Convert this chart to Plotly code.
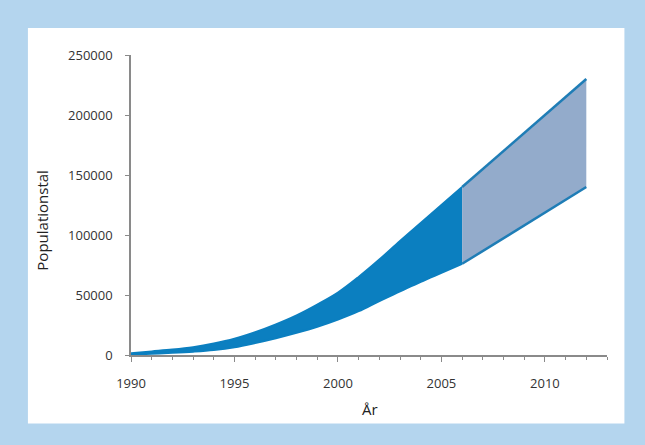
import plotly.graph_objects as go

years_hist = [1990, 1991, 1992, 1993, 1994, 1995, 1996, 1997, 1998, 1999,
              2000, 2001, 2002, 2003, 2004, 2005, 2006]
upper_hist = [1500, 3000, 4500, 6500, 9500, 13500, 19000, 25500, 33000, 42000,
              52000, 65000, 79500, 95000, 110000, 125000, 140000]
lower_hist = [500, 1000, 1800, 2800, 4200, 6500, 10000, 14000, 18500, 23500,
              29500, 36500, 45000, 53000, 61000, 68500, 76000]

years_proj = [2006, 2012]
upper_proj = [140000, 230000]
lower_proj = [76000, 140000]

x_ticks = [1990, 1995, 2000, 2005, 2010]
y_ticks = [0, 50000, 100000, 150000, 200000, 250000]

DARK = "#0b7fc0"
LIGHT = "#93abcb"
EDGE = "#1f7db6"
FONT = "Open Sans"

fig = go.Figure()
fig.add_trace(go.Scatter(x=years_hist, y=lower_hist, mode="lines",
                         line=dict(color=DARK, width=2, shape="spline"),
                         hoverinfo="skip", showlegend=False))
fig.add_trace(go.Scatter(x=years_hist, y=upper_hist, mode="lines",
                         line=dict(color=DARK, width=2, shape="spline"),
                         fill="tonexty", fillcolor=DARK,
                         hoverinfo="skip", showlegend=False))
fig.add_trace(go.Scatter(x=years_proj, y=lower_proj, mode="lines",
                         line=dict(color=EDGE, width=2.5),
                         hoverinfo="skip", showlegend=False))
fig.add_trace(go.Scatter(x=years_proj, y=upper_proj, mode="lines",
                         line=dict(color=EDGE, width=2.5),
                         fill="tonexty", fillcolor=LIGHT,
                         hoverinfo="skip", showlegend=False))

L, R, T, B = 131, 38.4, 55, 89.5
W = 645 - L - R
H = 445 - T - B

def px(xp):
    return (xp - L) / W

def py(yp):
    return (445 - B - yp) / H

fig.add_shape(type="rect", xref="paper", yref="paper",
              x0=px(28), x1=px(624), y0=py(424), y1=py(28),
              fillcolor="white", line=dict(width=0), layer="below")

fig.add_annotation(text="Populationstal", xref="paper", yref="paper",
                   x=px(42), y=py(220), textangle=-90, showarrow=False,
                   font=dict(family=FONT, size=15, color="#222"),
                   xanchor="center", yanchor="middle")
fig.add_annotation(text="År", xref="paper", yref="paper",
                   x=px(370), y=py(410), showarrow=False,
                   font=dict(family=FONT, size=15, color="#222"),
                   xanchor="center", yanchor="middle")

axis_common = dict(showgrid=False, zeroline=False, showline=True,
                   linecolor="#8a8a8a", linewidth=1.5, ticks="outside",
                   tickcolor="#8a8a8a", tickwidth=1.2, tickformat="d",
                   tickfont=dict(family=FONT, size=13, color="#333"))

fig.update_layout(
    width=645, height=445,
    margin=dict(l=L, r=R, t=T, b=B),
    paper_bgcolor="#b4d5ee",
    plot_bgcolor="rgba(0,0,0,0)",
    xaxis=dict(range=[1990, 2013], tickvals=x_ticks, ticklen=5,
               ticklabelstandoff=11,
               minor=dict(dtick=1, ticks="outside", ticklen=3,
                          tickcolor="#8a8a8a", tickwidth=1),
               **axis_common),
    yaxis=dict(range=[0, 250000], tickvals=y_ticks, ticklen=4,
               ticklabelstandoff=10, **axis_common),
)

fig.write_html("out.html", config={"displayModeBar": False},
               post_script="document.body.style.margin='0';")
